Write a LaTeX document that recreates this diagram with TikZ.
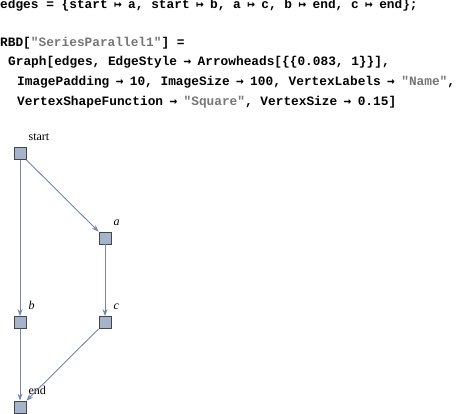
\documentclass[tikz,border=0pt]{standalone}
\usepackage{fontspec}
\setmainfont{Liberation Serif}
\setmonofont{Liberation Mono}
\newfontfamily\arrfont{DejaVu Sans Mono}
\usepackage{xcolor}
\usetikzlibrary{arrows.meta, positioning}

\definecolor{vfill}{RGB}{165,180,204}
\definecolor{vline}{RGB}{70,70,70}
\definecolor{ecol}{RGB}{115,135,172}
\definecolor{strgray}{RGB}{118,118,118}
\newcommand{\mto}{\hspace{0.5em}{\arrfont\bfseries →}\hspace{0.5em}}
\newcommand{\mmap}{\hspace{0.5em}{\arrfont\bfseries ↦}\hspace{0.5em}}
\newcommand{\mstr}[1]{\textcolor{strgray}{"#1"}}

\begin{document}
\begin{tikzpicture}[x=1pt, y=-1pt, >=Stealth,
        code/.style={anchor=base west, inner sep=0pt, font=\fontsize{12.8}{15}\selectfont\ttfamily\bfseries},
        vert/.style={rectangle, draw=vline, fill=vfill, line width=0.8pt, minimum size=12pt, inner sep=0pt},
        vlab/.style={inner sep=0pt, font=\fontsize{12}{14}\selectfont},
        edge/.style={draw=ecol, line width=0.9pt, -{Stealth[length=7pt, width=5pt]}}]

        \useasboundingbox (0,0) rectangle (457,414);

        % input cell
        \node (l1) [code] at (0,9) {edges = \{start\mmap a, start\mmap b, a\mmap c, b\mmap end, c\mmap end\};};
        \node (l2) [code] at (0,47) {RBD[\mstr{SeriesParallel1}] =};
        \node (l3) [code] at (8,66) {Graph[edges, EdgeStyle\mto Arrowheads[\{\{0.083, 1\}\}],};
        \node (l4) [code] at (17,86) {ImagePadding\mto 10, ImageSize\mto 100, VertexLabels\mto\mstr{Name},};
        \node (l5) [code] at (17,106) {VertexShapeFunction\mto\mstr{Square}, VertexSize\mto 0.15]};

        % graph
        \node (vstart) [vert] at (20,153.5) {};
        \node (va) [vert] at (105,238) {};
        \node (vb) [vert] at (20,322.5) {};
        \node (vc) [vert] at (105,322.5) {};
        \node (vend) [vert] at (20,407) {};

        \node (tstart) [vlab, above right=6.5pt and 2pt of vstart.north east] {start};
        \node (ta) [vlab, above right=6pt and 2pt of va.north east] {\textit{a}};
        \node (tb) [vlab, above right=6.5pt and 2pt of vb.north east] {\textit{b}};
        \node (tc) [vlab, above right=6.5pt and 2pt of vc.north east] {\textit{c}};
        \node (tend) [vlab, above right=6pt and 2pt of vend.north east] {end};

        \draw[edge] (vstart) -- (va);
        \draw[edge] (vstart) -- (vb);
        \draw[edge] (va) -- (vc);
        \draw[edge] (vb) -- (vend);
        \draw[edge] (vc) -- (vend);
    \end{tikzpicture}
\end{document}
